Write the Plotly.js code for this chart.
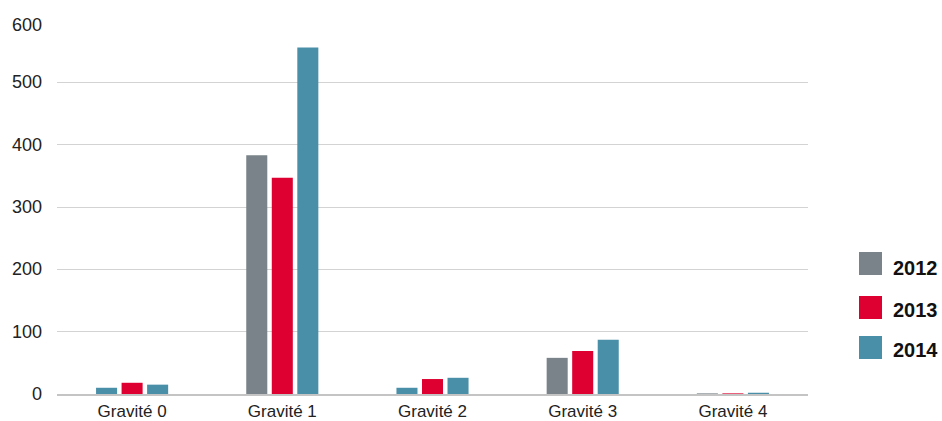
<!DOCTYPE html>
<html>
<head>
<meta charset="utf-8">
<script src="https://cdn.plot.ly/plotly-3.0.1.min.js"></script>
<style>html,body{margin:0;padding:0;background:#fff}#chart{width:942px;height:421px}</style>
</head>
<body>
<div id="chart"></div>
<script>
const categories = ["Gravité 0", "Gravité 1", "Gravité 2", "Gravité 3", "Gravité 4"];
const seriesNames = ["2012", "2013", "2014"];
const values2012 = [10, 383, 10, 58, 1];
const values2013 = [18, 347, 24, 69, 1];
const values2014 = [15, 556, 26, 87, 2];
const yTicks = [0, 100, 200, 300, 400, 500, 600];
const colors = {gray: "#7a8389", red: "#dd0030", teal: "#4a8fa8"};
// the reference draws the first bar of Gravité 0 and Gravité 2 in the 2014 colour
const colors2012 = [colors.teal, colors.gray, colors.teal, colors.gray, colors.gray];

const font = "'Liberation Sans', Arial, sans-serif";
const traces = [
  {type: "bar", name: seriesNames[0], x: categories, y: values2012, marker: {color: colors2012}, showlegend: false},
  {type: "bar", name: seriesNames[1], x: categories, y: values2013, marker: {color: colors.red}, showlegend: false},
  {type: "bar", name: seriesNames[2], x: categories, y: values2014, marker: {color: colors.teal}, showlegend: false}
];

const legendColors = [colors.gray, colors.red, colors.teal];
const legendBoxY = [263.5, 307.5, 347.5]; // pixel centres of swatches
const legendTextY = [268, 310, 350];
const L = 57, R = 808, T = 20, B = 394;
const px2x = p => (p - L) / (R - L);
const px2y = p => (B - p) / (B - T);
const shapes = [], annotations = [];
seriesNames.forEach((n, i) => {
  shapes.push({type: "rect", xref: "paper", yref: "paper",
    x0: px2x(859), x1: px2x(882), y0: px2y(legendBoxY[i] + 11.5), y1: px2y(legendBoxY[i] - 11.5),
    fillcolor: legendColors[i], line: {width: 0}});
  annotations.push({xref: "paper", yref: "paper", x: px2x(891), y: px2y(legendTextY[i]),
    xanchor: "left", yanchor: "middle", showarrow: false, text: "<b>" + n + "</b>",
    font: {family: font, size: 20, color: "#111"}});
});
// y tick labels (top one sits a little below its gridline, as in the reference)
yTicks.forEach(v => {
  annotations.push({xref: "paper", yref: "y", x: 0, y: v, xanchor: "right", yanchor: "middle",
    xshift: -13, yshift: v === 600 ? -5 : 0, showarrow: false, text: String(v),
    font: {family: font, size: 18, color: "#222"}});
});

const layout = {
  width: 942, height: 421,
  margin: {l: L, r: 942 - R, t: T, b: 421 - B},
  paper_bgcolor: "#fff", plot_bgcolor: "#fff",
  barmode: "group", bargap: 0.49, bargroupgap: 0.176,
  showlegend: false,
  font: {family: font, size: 17, color: "#222"},
  xaxis: {showgrid: false, showline: true, linecolor: "#c4c4c4", linewidth: 1.5,
    tickfont: {family: font, size: 17, color: "#222"}, ticks: "", ticklabelstandoff: 1},
  yaxis: {range: [0, 600], tickvals: yTicks, showgrid: true, gridcolor: "#d3d3d3", gridwidth: 1,
    zeroline: false, showline: false, ticks: "", showticklabels: false},
  shapes: shapes, annotations: annotations
};
Plotly.newPlot("chart", traces, layout, {displayModeBar: false, staticPlot: true});
</script>
</body>
</html>
